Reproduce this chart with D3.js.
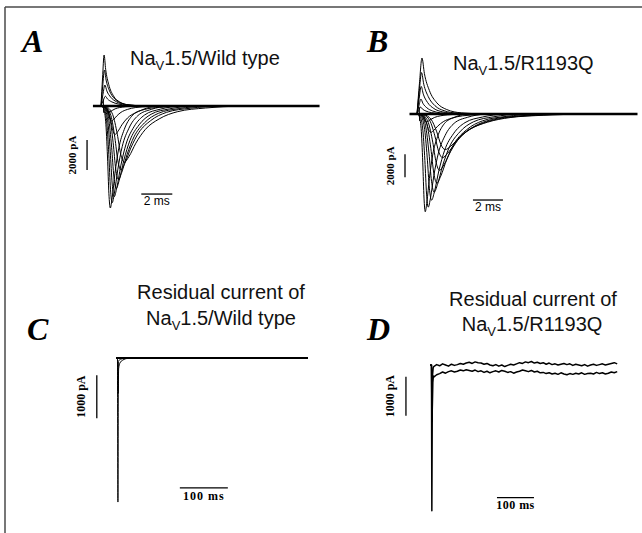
<!DOCTYPE html>
<html>
<head>
<meta charset="utf-8">
<script src="https://cdn.jsdelivr.net/npm/d3@7"></script>
<style>
  body { margin: 0; background: #fff; }
  svg { display: block; }
</style>
</head>
<body>
<div id="figure"></div>
<script>
/* * * * * * * * * * * * * *
 *   Na current figure     *
 * * * * * * * * * * * * * */

// shape of one inward sweep: time / time-to-peak, fraction of peak current
const inwardShapeT = [0, 0.25, 0.5, 0.7, 0.85, 1.0, 1.2, 1.5, 1.9, 2.5, 3.3, 4.5, 6.0];
const inwardShapeI = [0, 0.02, 0.15, 0.5, 0.86, 1.0, 0.9, 0.66, 0.42, 0.23, 0.1, 0.035, 0];
// shape of one outward transient
const outwardShapeT = [0, 0.5, 1, 1.5, 2.5, 4, 6, 9, 14];
const outwardShapeI = [0, 0.55, 1, 0.72, 0.42, 0.2, 0.08, 0.02, 0];

// panel A (wild type): time to peak (ms) and peak current (pA) of each sweep
const peakTimeA = [0.6, 0.72, 0.85, 0.98, 1.12, 1.28, 1.5, 0.9, 0.68, 0.48];
const peakCurrentA = [-6800, -6450, -6050, -5500, -4900, -4250, -3750, -1900, -1000, -450];
const outPeakTimeA = [0.2, 0.22, 0.25, 0.28];
const outPeakCurrentA = [3400, 2400, 1400, 650];

// panel B (R1193Q)
const peakTimeB = [0.55, 0.75, 0.97, 1.14, 1.32, 1.5, 1.7, 1.88, 0.92, 0.62];
const peakCurrentB = [-8500, -8100, -7500, -6800, -6000, -4900, -3800, -3100, -1600, -700];
const outPeakTimeB = [0.33, 0.3, 0.28, 0.26, 0.24];
const outPeakCurrentB = [4870, 3600, 2400, 1300, 600];

// panel C residual current sweeps, [ms, pA]
const residualC1 = [[0, 0], [3, 0], [4, -3350], [5, -80], [9, -30], [20, -5], [400, 0]];
const residualC2 = [[0, 0], [3, 0], [4.5, -820], [5.5, -250], [8, -120], [14, -50], [25, -10], [400, 0]];

// panel D residual current: spike then sampled trace every 8 ms from 10 ms
const spikeD1 = [[0, 0], [4, 0], [5, -3740], [6.5, -300], [8.5, -80]];
const spikeD2 = [[0, 0], [4, 0], [5.5, -1450], [7.5, -450], [9.2, -280]];
const levelD = [0, -190];
const noiseD1 = [-40, 10, -20, 30, 0, -30, 20, -10, 10, 40, 20, 50, 70, 40, 80, 60, 50, 20, 40, 0,
  -20, 10, -30, 0, -40, -10, 20, 0, 30, 60, 40, 80, 60, 90, 50, 70, 40, 60, 20, 50,
  10, 30, 0, 20, 40, 10, 30, -10, 20, 0, -20, 10, -30, 0, 20, -10, 10, 30, 0, 20, 40, 60, 30];
const noiseD2 = [-120, -60, -30, 10, -20, 20, 40, 10, 30, 60, 40, 70, 50, 30, 60, 20, 40, 0, 30, -10,
  20, 40, 10, 50, 30, 0, 20, -20, 10, 30, 60, 40, 20, 50, 10, 30, -10, 0, -30, -10,
  -40, -20, -50, -10, -40, -60, -30, -50, -20, -40, -10, -50, -30, -20, -40, 0, -30, -10, -40, -20, 10, -10, 20];

// text
const panelLetters = ["A", "B", "C", "D"];
const titleA = ["Na", "V", "1.5/Wild type"];
const titleB = ["Na", "V", "1.5/R1193Q"];
const residualLabel = "Residual current of";
const scaleLabelsTop = ["2000 pA", "2 ms"];
const scaleLabelsBottom = ["1000 pA", "100 ms"];

const width = 642, height = 533;

const svg = d3.select("#figure").append("svg")
  .attr("width", width)
  .attr("height", height)
  .style("background", "#fff");

// frame lines (top and left only)
svg.append("line").attr("x1", 5).attr("x2", width).attr("y1", 7).attr("y2", 7)
  .attr("stroke", "#4a4a4a").attr("stroke-width", 1.5);
svg.append("line").attr("x1", 5).attr("x2", 5).attr("y1", 7).attr("y2", height)
  .attr("stroke", "#4a4a4a").attr("stroke-width", 1.5);

// build a sweep from a shape and its peak
function buildSweep(tp, ip, shapeT, shapeI) {
  return shapeT.map((r, i) => [r * tp, shapeI[i] * ip]);
}

class TracePanel {
  constructor(_svg, _config) {
    this.svg = _svg;
    this.config = _config;
    this.initVis();
  }

  initVis() {
    let vis = this;
    let c = vis.config;

    // pxPerUnit = pixels for one scale-bar time unit, pxPerI = pixels for one current unit
    vis.x = d3.scaleLinear().domain([0, c.tUnit]).range([c.x0, c.x0 + c.pxPerUnit]);
    vis.y = d3.scaleLinear().domain([0, -c.iUnit]).range([c.y0, c.y0 + c.pxPerI]);

    vis.line = d3.line()
      .x(d => vis.x(d[0]))
      .y(d => vis.y(d[1]))
      .curve(c.curve || d3.curveMonotoneX);

    vis.g = vis.svg.append("g").attr("class", "panel");

    vis.updateVis();
  }

  updateVis() {
    let vis = this;
    let c = vis.config;

    // holding baseline
    if (c.baseline) {
      vis.g.append("line")
        .attr("x1", vis.x(c.baseline[0]))
        .attr("x2", vis.x(c.baseline[1]))
        .attr("y1", vis.y(0))
        .attr("y2", vis.y(0))
        .attr("stroke", "#000")
        .attr("stroke-width", c.baselineWidth);
    }

    // sweeps
    vis.g.selectAll("path.sweep")
      .data(c.sweeps)
      .join("path")
      .attr("class", "sweep")
      .attr("d", vis.line)
      .attr("fill", "none")
      .attr("stroke", "#000")
      .attr("stroke-width", c.sweepWidth)
      .attr("stroke-linejoin", "round");

    // vertical scale bar
    let vb = c.vBar;
    vis.g.append("line")
      .attr("x1", vis.x(vb.t)).attr("x2", vis.x(vb.t))
      .attr("y1", vis.y(vb.i)).attr("y2", vis.y(vb.i - c.iUnit))
      .attr("stroke", "#000").attr("stroke-width", 1.3);
    let vx = vis.x(vb.t) - vb.gap;
    let vy = (vis.y(vb.i) + vis.y(vb.i - c.iUnit)) / 2;
    vis.g.append("text")
      .attr("transform", `translate(${vx}, ${vy}) rotate(-90)`)
      .attr("text-anchor", "middle")
      .attr("font-family", "'Liberation Serif', 'Times New Roman', serif")
      .attr("font-weight", "bold")
      .attr("font-size", vb.fontSize)
      .text(vb.label);

    // horizontal scale bar
    let hb = c.hBar;
    vis.g.append("line")
      .attr("x1", vis.x(hb.t)).attr("x2", vis.x(hb.t + c.tUnit))
      .attr("y1", vis.y(hb.i)).attr("y2", vis.y(hb.i))
      .attr("stroke", "#000").attr("stroke-width", 1.3);
    vis.g.append("text")
      .attr("x", (vis.x(hb.t) + vis.x(hb.t + c.tUnit)) / 2)
      .attr("y", vis.y(hb.i) + hb.gap)
      .attr("text-anchor", "middle")
      .attr("font-family", hb.family)
      .attr("font-weight", hb.weight)
      .attr("font-size", hb.fontSize)
      .attr("letter-spacing", hb.spacing || 0)
      .text(hb.label);
  }
}

// sweeps for A and B
const sweepsA = peakTimeA.map((t, i) => buildSweep(t, peakCurrentA[i], inwardShapeT, inwardShapeI))
  .concat(outPeakTimeA.map((t, i) => buildSweep(t, outPeakCurrentA[i], outwardShapeT, outwardShapeI)))
  .concat([[[0.15, 450], [0.17, -450]]]);
const sweepsB = peakTimeB.map((t, i) => buildSweep(t, peakCurrentB[i], inwardShapeT, inwardShapeI))
  .concat(outPeakTimeB.map((t, i) => buildSweep(t, outPeakCurrentB[i], outwardShapeT, outwardShapeI)))
  .concat([[[0.15, 600], [0.17, -600]]]);

// sweeps for D
function sampled(spike, noise, level) {
  return spike.concat(noise.map((v, i) => [10 + i * 8, level + v]));
}
const sweepsD = [sampled(spikeD1, noiseD1, levelD[0]), sampled(spikeD2, noiseD2, levelD[1])];

const sansBar = "'Liberation Sans', Arial, sans-serif";
const serifBar = "'Liberation Serif', 'Times New Roman', serif";

new TracePanel(svg, {
  tUnit: 2, x0: 101, pxPerUnit: 31,
  iUnit: 2000, y0: 106, pxPerI: 30,
  baseline: [-0.52, 14.1], baselineWidth: 2.6,
  sweeps: sweepsA, sweepWidth: 1,
  vBar: { t: -0.9, i: -2270, gap: 11, label: scaleLabelsTop[0], fontSize: 11 },
  hBar: { t: 2.6, i: -5870, gap: 11, label: scaleLabelsTop[1], family: sansBar, weight: "normal", fontSize: 12 }
});

new TracePanel(svg, {
  tUnit: 2, x0: 417, pxPerUnit: 30,
  iUnit: 2000, y0: 114, pxPerI: 23,
  baseline: [-0.5, 14.7], baselineWidth: 2.6,
  sweeps: sweepsB, sweepWidth: 1,
  vBar: { t: -0.8, i: -3500, gap: 11, label: scaleLabelsTop[0], fontSize: 11 },
  hBar: { t: 3.73, i: -7480, gap: 11, label: scaleLabelsTop[1], family: sansBar, weight: "normal", fontSize: 12 }
});

new TracePanel(svg, {
  tUnit: 100, x0: 116, pxPerUnit: 48,
  iUnit: 1000, y0: 358, pxPerI: 43,
  baseline: [0, 400], baselineWidth: 2,
  sweeps: [residualC1, residualC2], sweepWidth: 1,
  vBar: { t: -40, i: -400, gap: 12, label: scaleLabelsBottom[0], fontSize: 12 },
  hBar: { t: 133, i: -3020, gap: 12, label: scaleLabelsBottom[1], family: serifBar, weight: "bold", fontSize: 12, spacing: 1 }
});

new TracePanel(svg, {
  tUnit: 100, x0: 430, pxPerUnit: 37,
  iUnit: 1000, y0: 365, pxPerI: 39,
  baseline: null,
  sweeps: sweepsD, sweepWidth: 1.5,
  curve: d3.curveLinear,
  vBar: { t: -65, i: -300, gap: 12, label: scaleLabelsBottom[0], fontSize: 12 },
  hBar: { t: 181, i: -3400, gap: 11, label: scaleLabelsBottom[1], family: serifBar, weight: "bold", fontSize: 12, spacing: 0.5 }
});

// panel letters
const letterPos = [[22, 52], [367, 52], [27, 340], [367, 340]];
svg.selectAll("text.letter")
  .data(panelLetters)
  .join("text")
  .attr("class", "letter")
  .attr("x", (d, i) => letterPos[i][0])
  .attr("y", (d, i) => letterPos[i][1])
  .attr("font-family", "'Liberation Serif', 'Times New Roman', serif")
  .attr("font-weight", "bold")
  .attr("font-style", "italic")
  .attr("font-size", 32)
  .text(d => d);

// titles with subscript V
function naTitle(parts, x, y, anchor) {
  let t = svg.append("text")
    .attr("x", x)
    .attr("y", y)
    .attr("text-anchor", anchor)
    .attr("font-family", "'Liberation Sans', Arial, sans-serif")
    .attr("font-size", 20)
    .attr("fill", "#111");
  t.append("tspan").text(parts[0]);
  t.append("tspan").attr("dy", 5).attr("font-size", 13).text(parts[1]);
  t.append("tspan").attr("dy", -5).text(parts[2]);
}

naTitle(titleA, 130, 65, "start");
naTitle(titleB, 453, 70, "start");

svg.append("text")
  .attr("x", 221).attr("y", 299)
  .attr("text-anchor", "middle")
  .attr("font-family", "'Liberation Sans', Arial, sans-serif")
  .attr("font-size", 20).attr("fill", "#111")
  .text(residualLabel);
naTitle(titleA, 221, 325, "middle");

svg.append("text")
  .attr("x", 533).attr("y", 306)
  .attr("text-anchor", "middle")
  .attr("font-family", "'Liberation Sans', Arial, sans-serif")
  .attr("font-size", 20).attr("fill", "#111")
  .text(residualLabel);
naTitle(titleB, 532, 331, "middle");
</script>
</body>
</html>
